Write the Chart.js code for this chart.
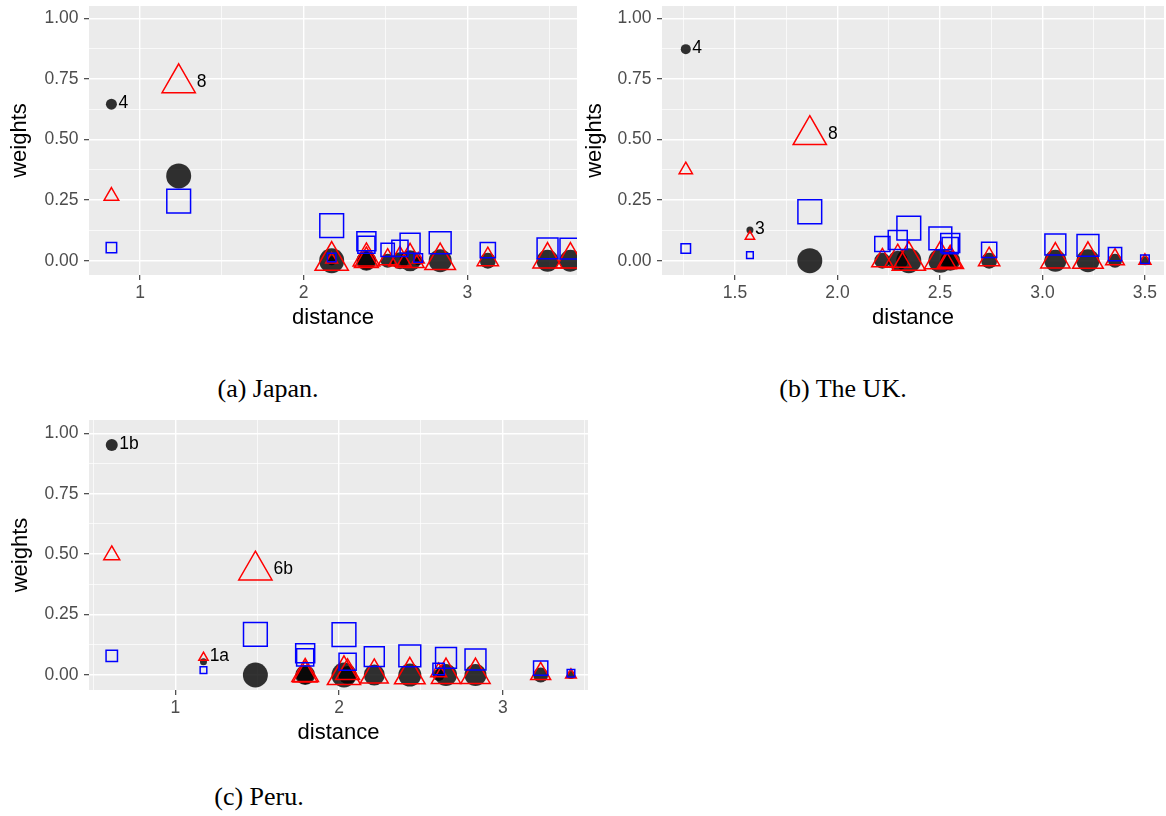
<!DOCTYPE html>
<html>
<head>
<meta charset="utf-8">
<script src="https://cdn.jsdelivr.net/npm/chart.js@4.4.1/dist/chart.umd.min.js"></script>
<style>
  body { margin: 0; background: #fff; width: 1166px; height: 816px; position: relative; overflow: hidden; }
  canvas { position: absolute; }
  .caption { position: absolute; font-family: "Liberation Serif", "Times New Roman", serif; font-size: 26px; line-height: 30px; color: #000; white-space: nowrap; transform: translateX(-50%); }
</style>
</head>
<body>
<canvas id="japan" width="580" height="340" style="left:0;top:0"></canvas>
<canvas id="uk" width="586" height="340" style="left:580px;top:0"></canvas>
<canvas id="peru" width="592" height="341" style="left:0;top:414px"></canvas>
<div class="caption" style="left:268px;top:374px">(a) Japan.</div>
<div class="caption" style="left:843px;top:374px">(b) The UK.</div>
<div class="caption" style="left:259px;top:782px">(c) Peru.</div>
<script>
// Japan
const jpDistance = [0.825, 1.236, 2.171, 2.171, 2.383, 2.383, 2.513, 2.588, 2.650, 2.700, 2.834, 3.125, 3.490, 3.630];
const jpSize     = [11, 25, 25, 9, 20, 18, 14, 17, 21, 9, 23, 16, 22, 22];
const jpCircle   = [0.646, 0.350, 0, 0, 0, 0, 0, 0, 0, 0, 0, 0, 0, 0];
const jpTriangle = [0.267, 0.733, 0, 0.005, 0.01, 0, 0.005, 0.005, 0.005, 0.005, 0, 0.005, 0.005, 0.005];
const jpSquare   = [0.054, 0.246, 0.145, 0.013, 0.080, 0.066, 0.045, 0.051, 0.072, 0.011, 0.074, 0.044, 0.051, 0.050];
const jpLabels   = [['circle', 0, '4'], ['triangle', 1, '8']];

// The UK
const ukDistance = [1.26, 1.573, 1.865, 2.219, 2.294, 2.348, 2.502, 2.55, 2.55, 2.74, 3.063, 3.222, 3.354, 3.50];
const ukSize     = [10, 7, 25, 16, 20, 25, 24, 20, 17, 16, 22, 23, 14, 9];
const ukCircle   = [0.873, 0.127, 0, 0, 0, 0, 0, 0, 0, 0, 0, 0, 0, 0];
const ukTriangle = [0.375, 0.10, 0.519, 0, 0.005, 0, 0.005, 0, 0, 0.005, 0.005, 0.005, 0.005, 0];
const ukSquare   = [0.050, 0.023, 0.202, 0.069, 0.085, 0.134, 0.092, 0.073, 0.062, 0.045, 0.067, 0.063, 0.027, 0.006];
const ukLabels   = [['circle', 0, '4'], ['circle', 1, '3'], ['triangle', 2, '8']];

// Peru
const peDistance = [0.612, 1.172, 1.489, 1.793, 1.793, 2.030, 2.052, 2.215, 2.432, 2.608, 2.653, 2.833, 3.231, 3.416];
const peSize     = [12, 7, 25, 20, 18, 25, 18, 21, 23, 12, 22, 22, 15, 8];
const peCircle   = [0.952, 0.055, 0, 0, 0, 0, 0, 0, 0, 0, 0, 0, 0, 0];
const peTriangle = [0.496, 0.072, 0.433, 0.005, 0, 0, 0.01, 0, 0, 0.012, 0, 0, 0.005, 0];
const peSquare   = [0.079, 0.020, 0.168, 0.090, 0.073, 0.167, 0.055, 0.076, 0.079, 0.025, 0.071, 0.064, 0.029, 0.007];
const peLabels   = [['circle', 0, '1b'], ['triangle', 1, '1a'], ['triangle', 2, '6b']];

// axis ticks (majors get labels, minors only grid lines)
const yTicks = [0, 0.125, 0.25, 0.375, 0.5, 0.625, 0.75, 0.875, 1];
const yMajor = [0, 0.25, 0.5, 0.75, 1];
const jpXTicks = [1, 1.5, 2, 2.5, 3, 3.5];
const jpXMajor = [1, 2, 3];
const ukXTicks = [1.25, 1.5, 1.75, 2, 2.25, 2.5, 2.75, 3, 3.25, 3.5];
const ukXMajor = [1.5, 2, 2.5, 3, 3.5];
const peXTicks = [0.5, 1, 1.5, 2, 2.5, 3, 3.5];
const peXMajor = [1, 2, 3];

const FONT = '"Liberation Sans", Arial, sans-serif';
Chart.defaults.font.family = FONT;

// marker size -> radius for each shape
const CIRCLE_R = 0.5, TRI_R = 0.768, SQ_R = 0.672;

const isMajor = (list, v) => list.some(m => Math.abs(m - v) < 1e-9);

const panelBackground = {
  id: 'panelBackground',
  beforeDraw(chart) {
    const {ctx, chartArea: a} = chart;
    ctx.save();
    ctx.fillStyle = '#ebebeb';
    ctx.fillRect(a.left, a.top, a.right - a.left, a.bottom - a.top);
    ctx.restore();
  }
};

// text next to a marker, placed just right of its edge
function pointLabels(items) {
  return {
    id: 'pointLabels',
    afterDatasetsDraw(chart) {
      const ctx = chart.ctx;
      ctx.save();
      ctx.font = '17.5px ' + FONT;
      ctx.fillStyle = '#000';
      ctx.textAlign = 'left';
      ctx.textBaseline = 'middle';
      items.forEach(([series, index, text]) => {
        const dsIndex = chart.data.datasets.findIndex(ds => ds.key === series);
        const el = chart.getDatasetMeta(dsIndex).data[index];
        const r = el.options.radius;
        const style = el.options.pointStyle;
        const half = style === 'triangle' ? r * Math.sqrt(3) / 2 : style === 'rect' ? r * Math.SQRT1_2 : r;
        ctx.fillText(text, el.x + half + 1.5, el.y - 1);
      });
      ctx.restore();
    }
  };
}

function drawPanel(id, d, lay) {
  const pts = vals => d.dist.map((x, i) => ({x: x, y: vals[i]}));
  const gridLine = major => c => (c.tick && isMajor(major, c.tick.value)) ? 1.4 : 0.7;
  const tickCol = major => c => (c.tick && isMajor(major, c.tick.value)) ? '#333333' : 'rgba(0,0,0,0)';

  new Chart(document.getElementById(id), {
    type: 'scatter',
    data: {
      datasets: [
        {
          key: 'square', data: pts(d.square), pointStyle: 'rect',
          pointRadius: c => d.size[c.dataIndex] * SQ_R,
          pointBackgroundColor: 'rgba(0,0,0,0)', pointBorderColor: '#0000ff', pointBorderWidth: 1.5
        },
        {
          key: 'triangle', data: pts(d.triangle), pointStyle: 'triangle',
          pointRadius: c => d.size[c.dataIndex] * TRI_R,
          pointBackgroundColor: 'rgba(0,0,0,0)', pointBorderColor: '#ff0000', pointBorderWidth: 1.5
        },
        {
          key: 'circle', data: pts(d.circle), pointStyle: 'circle',
          pointRadius: c => d.size[c.dataIndex] * CIRCLE_R,
          pointBackgroundColor: 'rgba(0,0,0,0.8)', pointBorderColor: 'rgba(0,0,0,0)', pointBorderWidth: 0
        }
      ]
    },
    options: {
      responsive: false,
      animation: false,
      events: [],
      layout: { autoPadding: false, padding: { left: 0, top: 6, right: lay.padRight, bottom: 0 } },
      plugins: { legend: { display: false }, tooltip: { enabled: false } },
      scales: {
        x: {
          type: 'linear', position: 'bottom', min: lay.xMin, max: lay.xMax,
          afterBuildTicks: s => { s.ticks = d.xTicks.map(v => ({value: v})); },
          afterFit: s => { s.height = lay.xAxisH; s.paddingLeft = 0; s.paddingRight = 0; },
          border: { display: false },
          grid: { color: '#ffffff', lineWidth: gridLine(d.xMajor), tickColor: tickCol(d.xMajor), tickLength: 5, tickWidth: 1.1 },
          ticks: {
            autoSkip: false, maxRotation: 0, padding: 3, color: '#4d4d4d', font: { size: 17.5 },
            callback: v => isMajor(d.xMajor, v) ? d.xFmt(v) : ''
          },
          title: { display: true, text: 'distance', color: '#000', font: { size: 22 }, padding: { top: 0, bottom: 9 } }
        },
        y: {
          type: 'linear', position: 'left', min: lay.yMin, max: lay.yMax,
          afterBuildTicks: s => { s.ticks = yTicks.map(v => ({value: v})); },
          afterFit: s => { s.width = lay.yAxisW; s.paddingTop = 0; s.paddingBottom = 0; },
          border: { display: false },
          grid: { color: '#ffffff', lineWidth: gridLine(yMajor), tickColor: tickCol(yMajor), tickLength: 5, tickWidth: 1.1 },
          ticks: {
            autoSkip: false, padding: 5.5, color: '#4d4d4d', font: { size: 17.5 },
            callback: v => isMajor(yMajor, v) ? v.toFixed(2) : ''
          },
          title: { display: true, text: 'weights', color: '#000', font: { size: 22 }, padding: { top: lay.yTitlePad, bottom: 0 } }
        }
      }
    },
    plugins: [panelBackground, pointLabels(d.labels)]
  });
}

drawPanel('japan',
  { dist: jpDistance, size: jpSize, circle: jpCircle, triangle: jpTriangle, square: jpSquare, labels: jpLabels,
    xTicks: jpXTicks, xMajor: jpXMajor, xFmt: v => String(v) },
  { xMin: 0.688, xMax: 3.67, yMin: -0.059, yMax: 1.051, padRight: 3, yAxisW: 89, xAxisH: 65, yTitlePad: 7 });

drawPanel('uk',
  { dist: ukDistance, size: ukSize, circle: ukCircle, triangle: ukTriangle, square: ukSquare, labels: ukLabels,
    xTicks: ukXTicks, xMajor: ukXMajor, xFmt: v => v.toFixed(1) },
  { xMin: 1.144, xMax: 3.593, yMin: -0.059, yMax: 1.051, padRight: 2, yAxisW: 82, xAxisH: 65, yTitlePad: 2 });

drawPanel('peru',
  { dist: peDistance, size: peSize, circle: peCircle, triangle: peTriangle, square: peSquare, labels: peLabels,
    xTicks: peXTicks, xMajor: peXMajor, xFmt: v => String(v) },
  { xMin: 0.473, xMax: 3.52, yMin: -0.062, yMax: 1.055, padRight: 4, yAxisW: 89, xAxisH: 65, yTitlePad: 8 });
</script>
</body>
</html>
